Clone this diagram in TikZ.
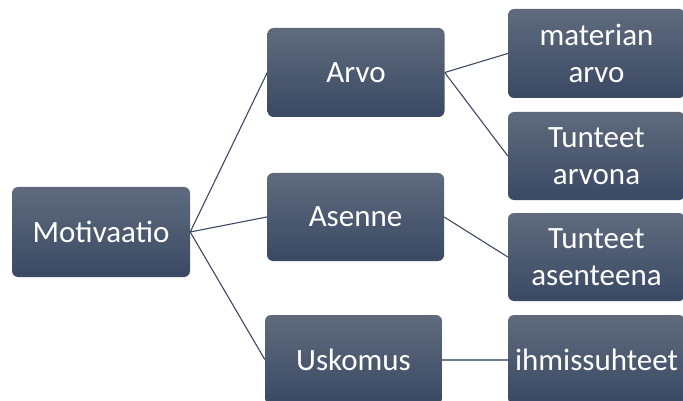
\documentclass[tikz,border=0pt]{standalone}
\usepackage{fontspec}
\setmainfont{Carlito}
\definecolor{boxtop}{HTML}{5F6B7D}
\definecolor{boxbot}{HTML}{3A4964}
\definecolor{linec}{HTML}{3B4A63}
\definecolor{linel}{HTML}{6F7E8F}
\tikzset{
  box/.style={rectangle, rounded corners=6pt, top color=boxtop, bottom color=boxbot,
    draw=none, text=white, align=center, inner sep=0pt,
    minimum width=177pt, minimum height=89pt,
    font=\fontsize{31}{37}\selectfont},
  conn/.style={draw=linec, line width=1.1pt},
  connl/.style={draw=linel, line width=2pt}
}
\begin{document}
\begin{tikzpicture}[x=1pt,y=-1pt]
\useasboundingbox (0,0) rectangle (683,401);
\node[box, minimum width=178pt, minimum height=90pt] (mot) at (101,232) {Motivaatio};
\node[box] (arvo) at (356,72.5) {Arvo};
\node[box, minimum height=88pt] (asenne) at (355.5,217) {Asenne};
\node[box] (usk) at (353.5,359.5) {Uskomus};
\node[box] (mat) at (596.5,53.5) {materian\\arvo};
\node[box, minimum height=88pt] (tarv) at (596.5,156) {Tunteet\\arvona};
\node[box, minimum height=88pt] (tas) at (596.5,257) {Tunteet\\asenteena};
\node[box] (ihm) at (596.5,359.5) {ihmissuhteet};
\draw[conn] (mot.east) -- (arvo.west);
\draw[conn] (mot.east) -- (asenne.west);
\draw[conn] (mot.east) -- (usk.west);
\draw[conn] (arvo.east) -- (mat.west);
\draw[conn] (arvo.east) -- (tarv.west);
\draw[conn] (asenne.east) -- (tas.west);
\draw[connl] (usk.east) -- (ihm.west);
\end{tikzpicture}
\end{document}
